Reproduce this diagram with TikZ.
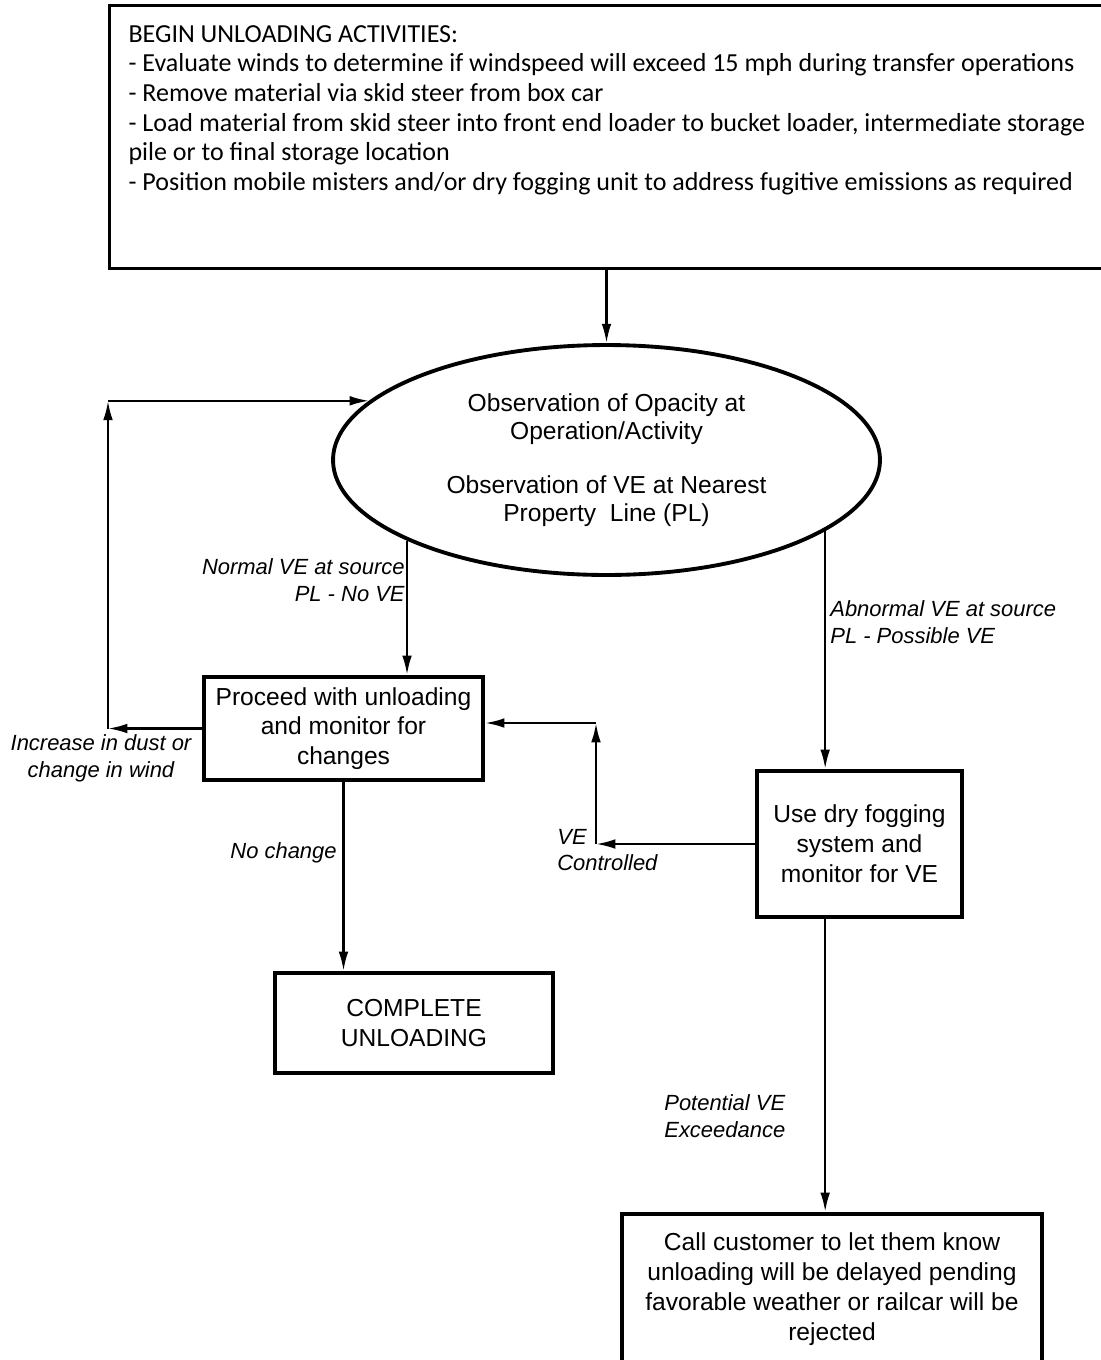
\documentclass[tikz,border=0pt]{standalone}
\usepackage{fontspec}
\setmainfont{Liberation Sans}
\newfontfamily\calibrifont{Carlito}
\usetikzlibrary{arrows.meta,shapes.geometric}

\begin{document}
\begin{tikzpicture}[x=0.02cm, y=-0.02cm,
	box/.style={draw, line width=2.4pt, inner sep=0pt, align=center, font=\fontsize{14}{17}\selectfont},
	arr/.style={-{Latex[length=11pt,width=5.5pt]}, line width=1.3pt},
	lab/.style={inner sep=0pt, font=\fontsize{12.5}{15.3}\selectfont\itshape}]
			\useasboundingbox (0,0) rectangle (1101,1360);
			\node[draw, line width=1.8pt, anchor=north west, inner xsep=0.38cm, inner ysep=0.4cm, font=\calibrifont\fontsize{14.8}{16.8}\selectfont](begin) at (108,4){\parbox[t][4.46cm][t]{19.4cm}{\raggedright BEGIN UNLOADING ACTIVITIES:\\- Evaluate winds to determine if windspeed will exceed 15 mph during transfer operations\\- Remove material via skid steer from box car\\- Load material from skid steer into front end loader to bucket loader, intermediate storage\\pile or to final storage location\\- Position mobile misters and/or dry fogging unit to address fugitive emissions as required}};
			\node[ellipse, draw, line width=2.2pt, minimum width=10.94cm, minimum height=4.6cm, align=center, font=\fontsize{14}{16}\selectfont](obs) at (606.5,460){Observation of Opacity at\\Operation/Activity\\[15pt]Observation of VE at Nearest\\Property~ Line (PL)};
			\node[box, minimum width=5.58cm, minimum height=2.06cm](proceed) at (343.5,728.5){Proceed with unloading\\and monitor for\\changes};
			\node[box, minimum width=4.1cm, minimum height=2.92cm](fog) at (859.5,844){Use dry fogging\\system and\\monitor for VE};
			\node[box, minimum width=5.56cm, minimum height=2cm](complete) at (414,1023){COMPLETE\\UNLOADING};
			\node[box, minimum width=8.4cm, minimum height=3cm](call) at (832,1289){Call customer to let them know\\unloading will be delayed pending\\favorable weather or railcar will be\\rejected};
			\node[lab, align=right, anchor=east](normal) at (405,580.5){Normal VE at source\\PL - No VE};
			\node[lab, align=left, anchor=west](abnormal) at (830,622){Abnormal VE at source\\PL - Possible VE};
			\node[lab, align=center](dust) at (101,758.5){Increase in dust or\\change in wind};
			\node[lab, align=left, anchor=west](controlled) at (557,850){VE\\Controlled};
			\node[lab, anchor=east](nochange) at (337,853){No change};
			\node[lab, align=left, anchor=west](potential) at (664,1116.5){Potential VE\\Exceedance};
			\coordinate (lp) at (obs.166 -| 108,0);
			\coordinate (vc) at (596,723);
			\draw[arr] (obs.north |- begin.south) -- (obs.north);
			\draw[arr] (obs.202) -- (obs.202 |- proceed.north);
			\draw[arr] (obs.-18) -- (obs.-18 |- fog.north);
			\draw[arr] (proceed.west) -- (proceed.west -| lp);
			\draw[arr] (proceed.west -| lp) -- (lp);
			\draw[arr] (lp) -- (obs.166);
			\draw[arr] (fog.west) -- (fog.west -| vc);
			\draw[arr] (fog.west -| vc) -- (vc);
			\draw[arr] (vc) -- (vc -| proceed.east);
			\draw[arr] (proceed.south) -- (proceed.south |- complete.north);
			\draw[arr] (fog.south -| obs.-18) -- (call.north -| obs.-18);
			\end{tikzpicture}
\end{document}
